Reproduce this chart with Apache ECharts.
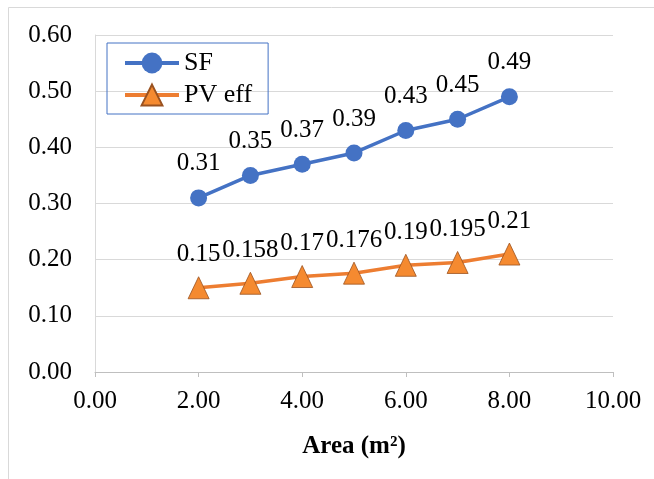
<!DOCTYPE html>
<html>
<head>
<meta charset="utf-8">
<script src="https://cdn.jsdelivr.net/npm/echarts@6/dist/echarts.min.js"></script>
<style>
html,body{margin:0;padding:0;background:#fff;}
#chart{width:654px;height:479px;}
</style>
</head>
<body>
<div id="chart"></div>
<script>
const areas = [2, 3, 4, 5, 6, 7, 8];
const sfValues = [0.31, 0.35, 0.37, 0.39, 0.43, 0.45, 0.49];
const pvEffValues = [0.15, 0.158, 0.17, 0.176, 0.19, 0.195, 0.21];
const pvEffLabels = ['0.15', '0.158', '0.17', '0.176', '0.19', '0.195', '0.21'];
const sfLabels = ['0.31', '0.35', '0.37', '0.39', '0.43', '0.45', '0.49'];
const xTitle = 'Area (m²)';

const FONT = "'Liberation Serif', 'Times New Roman', serif";
const chart = echarts.init(document.getElementById('chart'), null, {renderer: 'canvas'});

chart.setOption({
  backgroundColor: '#fff',
  animation: false,
  textStyle: {fontFamily: FONT, color: '#000'},
  graphic: [{
    type: 'rect',
    shape: {x: 8.5, y: 7.5, width: 800, height: 600},
    style: {fill: 'none', stroke: '#d9d9d9', lineWidth: 1},
    silent: true, z: -10
  }],
  grid: {left: 95, right: 41, top: 35, bottom: 107, containLabel: false},
  legend: {
    orient: 'vertical',
    left: 107, top: 43,
    padding: [7, 16, 6, 16],
    borderColor: '#4472c4', borderWidth: 1,
    itemWidth: 54, itemHeight: 26, itemGap: 6,
    lineStyle: {width: 4},
    textStyle: {fontFamily: FONT, fontSize: 26, color: '#000', lineHeight: 26},
    data: ['SF', 'PV eff']
  },
  xAxis: {
    type: 'value', min: 0, max: 10, interval: 2,
    name: xTitle, nameLocation: 'middle', nameGap: 62,
    nameTextStyle: {fontFamily: FONT, fontSize: 25, fontWeight: 'bold', color: '#000'},
    axisLine: {show: true, lineStyle: {color: '#bfbfbf', width: 1}},
    axisTick: {show: true, length: 5, lineStyle: {color: '#bfbfbf'}},
    axisLabel: {fontFamily: FONT, fontSize: 25, color: '#000', margin: 17,
      formatter: v => v.toFixed(2)},
    splitLine: {show: false}
  },
  yAxis: {
    type: 'value', min: 0, max: 0.6, interval: 0.1,
    axisLine: {show: true, lineStyle: {color: '#d9d9d9', width: 1}},
    axisTick: {show: false},
    axisLabel: {fontFamily: FONT, fontSize: 25, color: '#000', margin: 23,
      formatter: v => v.toFixed(2)},
    splitLine: {show: true, lineStyle: {color: '#d9d9d9', width: 1}}
  },
  series: [
    {
      name: 'SF', type: 'line',
      data: areas.map((x, i) => [x, sfValues[i]]),
      symbol: 'circle', symbolSize: 17,
      lineStyle: {color: '#4472c4', width: 3.5},
      itemStyle: {color: '#4472c4'},
      label: {show: true, position: 'top', distance: 13,
        fontFamily: FONT, fontSize: 25, color: '#000',
        formatter: p => sfLabels[p.dataIndex]},
      z: 3
    },
    {
      name: 'PV eff', type: 'line',
      data: areas.map((x, i) => [x, pvEffValues[i]]),
      symbol: 'triangle', symbolSize: [21, 22],
      lineStyle: {color: '#ed7d31', width: 3.5},
      itemStyle: {color: '#f58a30', borderColor: '#9a5220', borderWidth: 0.8},
      label: {show: true, position: 'top', distance: 9,
        fontFamily: FONT, fontSize: 25, color: '#000',
        formatter: p => pvEffLabels[p.dataIndex]},
      z: 2
    }
  ]
});
</script>
</body>
</html>
